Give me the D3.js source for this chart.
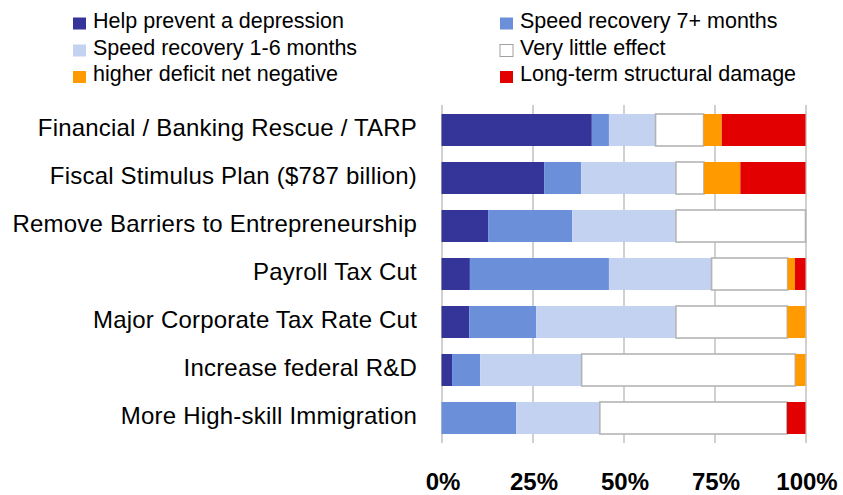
<!DOCTYPE html>
<html>
<head>
<meta charset="utf-8">
<script src="https://cdn.jsdelivr.net/npm/d3@7"></script>
<style>
  body { margin: 0; background: #fff; }
  text { font-family: "Liberation Sans", Arial, sans-serif; fill: #000; }
  .cat-label { font-size: 24px; letter-spacing: 0.2px; }
  .legend-text { font-size: 21.5px; }
  .x-axis text { font-size: 24px; font-weight: bold; }
  .x-axis .domain { display: none; }
  .x-axis line { stroke: #c0c0c0; stroke-width: 1.5px; }
</style>
</head>
<body>
<div id="chart"></div>
<script>
var width = 843;
var height = 495;

// categories (top to bottom)
var categories = [
  "Financial / Banking Rescue / TARP",
  "Fiscal Stimulus Plan ($787 billion)",
  "Remove Barriers to Entrepreneurship",
  "Payroll Tax Cut",
  "Major Corporate Tax Rate Cut",
  "Increase federal R&D",
  "More High-skill Immigration"
];

// series values, percent of respondents
var preventDepression = [41.3, 28.2, 12.8, 7.8, 7.6, 2.9, 0];
var recovery7plus     = [4.7, 10.2, 23.1, 38.2, 18.4, 7.7, 20.5];
var recovery1to6      = [12.8, 26.0, 28.5, 28.2, 38.4, 27.9, 23.0];
var littleEffect      = [13.2, 7.7, 35.6, 20.9, 30.6, 58.7, 51.4];
var deficitNegative   = [5.0, 10.0, 0, 2.0, 5.0, 2.8, 0];
var structuralDamage  = [23.0, 17.9, 0, 2.9, 0, 0, 5.1];

var seriesNames = [
  "Help prevent a depression",
  "Speed recovery 7+ months",
  "Speed recovery 1-6 months",
  "Very little effect",
  "higher deficit net negative",
  "Long-term structural damage"
];

var tickValues = [0, 25, 50, 75, 100];
var tickLabels = ["0%", "25%", "50%", "75%", "100%"];

var colours = ["#353599", "#6b8fd9", "#c3d2f0", "#ffffff", "#ff9a00", "#e30000"];

var seriesValues = [preventDepression, recovery7plus, recovery1to6, littleEffect, deficitNegative, structuralDamage];

// build rows for the stack
var rows = categories.map(function(c, i) {
  var row = { category: c };
  seriesNames.forEach(function(s, j) {
    row[s] = seriesValues[j][i];
  });
  return row;
});

var stacked = d3.stack().keys(seriesNames)(rows);

var svg = d3.select("#chart")
            .append("svg")
              .attr("width", width)
              .attr("height", height);

// scales
var xScale = d3.scaleLinear()
                .domain([0, 100])
                .range([441.5, 805.5]);

var yScale = d3.scaleBand()
                .domain(categories)
                .range([106, 442])
                .paddingInner(1 / 3)
                .paddingOuter(1 / 6);

// gridlines + tick labels
var xAxis = d3.axisBottom(xScale)
              .tickValues(tickValues)
              .tickSize(0)
              .tickFormat(function(d, i) { return tickLabels[i]; });

var axisG = svg.append("g")
                .attr("class", "axis x-axis")
                .attr("transform", "translate(0,443)")
                .call(xAxis);

axisG.selectAll(".tick line")
      .attr("y1", -338)
      .attr("y2", 0);

axisG.selectAll(".tick text")
      .attr("y", 0)
      .attr("dy", 0)
      .attr("transform", "translate(1,47)");

// bars
var layers = svg.selectAll(".layer")
                .data(stacked)
                .enter()
              .append("g")
                .attr("class", "layer")
                .attr("fill", function(d, i) { return colours[i]; });

layers.selectAll("rect")
      .data(function(d) { return d.map(function(v) { return { v: v, key: d.key }; }); })
      .enter()
    .append("rect")
      .filter(function(d) { return d.v[1] - d.v[0] > 0; })
      .attr("x", function(d) { return xScale(d.v[0]); })
      .attr("y", function(d) { return yScale(d.v.data.category); })
      .attr("width", function(d) { return xScale(d.v[1]) - xScale(d.v[0]); })
      .attr("height", yScale.bandwidth())
      .attr("stroke", function(d) { return d.key === "Very little effect" ? "#b4b4b4" : "none"; })
      .attr("stroke-width", 1.6);

// category labels
svg.selectAll(".cat-label")
    .data(categories)
    .enter()
  .append("text")
    .attr("class", "cat-label")
    .attr("text-anchor", "end")
    .attr("x", 417)
    .attr("y", function(d) { return yScale(d) + yScale.bandwidth() / 2 + 6; })
    .text(function(d) { return d; });

// legend, two columns
var legendCols = [72, 499];
var legendRows = [27.5, 54.5, 81];

var legend = svg.append("g")
                .attr("class", "legend");

var legendItems = legend.selectAll(".legend-item")
                        .data(seriesNames)
                        .enter()
                      .append("g")
                        .attr("class", "legend-item")
                        .attr("transform", function(d, i) {
                          return "translate(" + legendCols[i % 2] + "," + legendRows[Math.floor(i / 2)] + ")";
                        });

legendItems.append("rect")
            .attr("x", 1)
            .attr("y", -10)
            .attr("width", 13)
            .attr("height", 12)
            .attr("fill", function(d, i) { return colours[i]; })
            .attr("stroke", function(d, i) { return i === 3 ? "#a0a0a0" : "none"; })
            .attr("stroke-width", 1);

legendItems.append("text")
            .attr("class", "legend-text")
            .attr("x", 21)
            .attr("y", 0)
            .text(function(d) { return d; });
</script>
</body>
</html>
